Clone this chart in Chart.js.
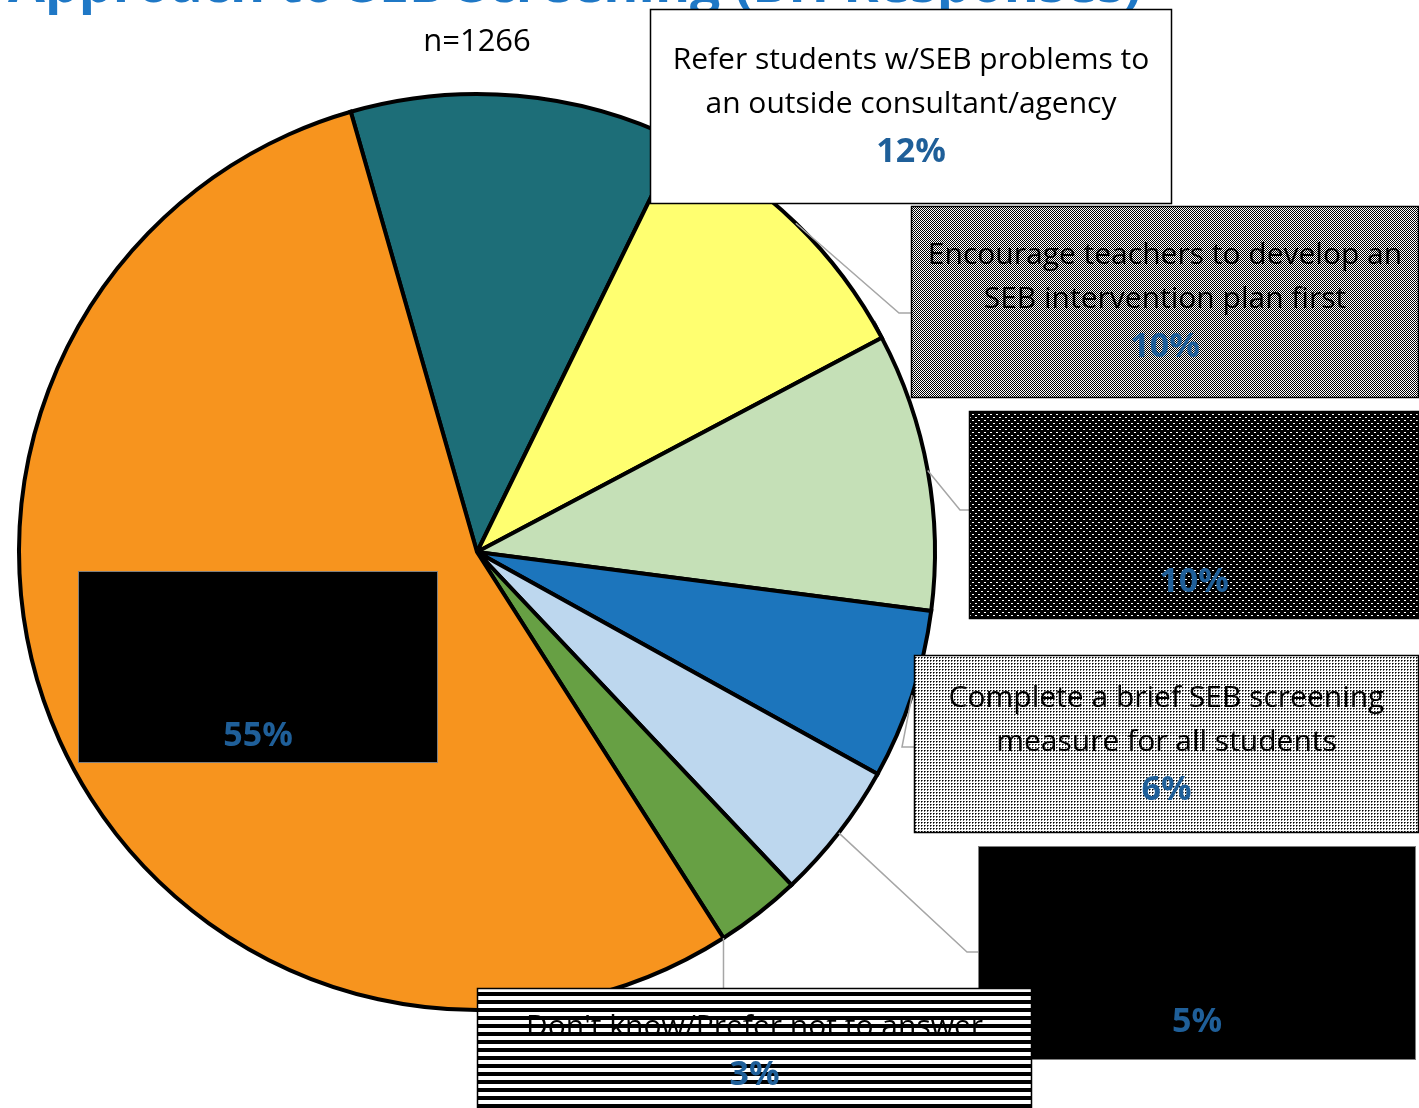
<!DOCTYPE html>
<html>
<head>
<meta charset="utf-8">
<script src="https://cdn.jsdelivr.net/npm/chart.js@4.4.1/dist/chart.umd.min.js"></script>
<style>
  html, body { margin: 0; padding: 0; background: #fff; }
  #wrap { width: 1419px; height: 1108px; position: relative; overflow: hidden; }
</style>
</head>
<body>
<div id="wrap"><canvas id="myChart" width="1419" height="1108"></canvas></div>
<script>
// data (slices go clockwise from the teal one)
const categories = [
    ['Refer students w/SEB problems to', 'an outside consultant/agency'],
    ['Encourage teachers to develop an', 'SEB intervention plan first'],
    [],
    ['Complete a brief SEB screening', 'measure for all students'],
    [],
    ["Don't know/Prefer not to answer"],
    []
];
const shares = [11.7, 10.0, 9.8, 6.0, 4.9, 3.0, 54.6];
const sliceColors = ['#1d6e78', '#ffff70', '#c5e0b7', '#1c75bc', '#bdd7ee', '#67a044', '#f7941e'];
const titleText = 'Approach to SEB Screening (BH Responses)';
const subTitle = 'n=1266';

// label boxes (position/look only)
const boxes = [
    { x: 650, y: 9, w: 522, h: 195, fill: 'white', pct: 143, lead: null },
    { x: 911, y: 206, w: 508, h: 192, fill: 'checker', pct: 141, lead: { f: 0.5, bend: [899, 313], end: [911, 313] } },
    { x: 969, y: 411, w: 450, h: 208, fill: 'darkdots', pct: 171, lead: { f: 0.5, bend: [960, 510], end: [969, 510] } },
    { x: 914, y: 655, w: 505, h: 178, fill: 'lightdots', pct: 135, lead: { f: 0.5, bend: [902, 747], end: [914, 747] } },
    { x: 978, y: 846, w: 438, h: 214, fill: 'black', pct: 176, lead: { f: 0.5, bend: [967, 952], end: [978, 952] } },
    { x: 477, y: 988, w: 555, h: 130, fill: 'stripes', pct: 87, lead: { f: 1.0, bend: null, end: 'down' } },
    { x: 78, y: 571, w: 360, h: 192, fill: 'black', pct: 165, lead: null }
];

function makePattern(ctx, kind) {
    const c = document.createElement('canvas');
    const g = c.getContext('2d');
    if (kind === 'checker') {
        c.width = 2; c.height = 2;
        g.fillStyle = '#fff'; g.fillRect(0, 0, 2, 2);
        g.fillStyle = '#000'; g.fillRect(0, 0, 1, 1); g.fillRect(1, 1, 1, 1);
    } else if (kind === 'darkdots') {
        c.width = 6; c.height = 6;
        g.fillStyle = '#000'; g.fillRect(0, 0, 6, 6);
        g.fillStyle = '#fff'; g.fillRect(0, 0, 2, 1); g.fillRect(3, 3, 2, 1);
    } else if (kind === 'lightdots') {
        c.width = 3; c.height = 3;
        g.fillStyle = '#fff'; g.fillRect(0, 0, 3, 3);
        g.fillStyle = '#000'; g.fillRect(0, 0, 1, 1);
        g.fillStyle = '#666'; g.fillRect(1, 0, 1, 1); g.fillRect(0, 1, 1, 1);
    } else if (kind === 'stripes') {
        c.width = 8; c.height = 8;
        g.fillStyle = '#fff'; g.fillRect(0, 0, 8, 8);
        g.fillStyle = '#000'; g.fillRect(0, 0, 8, 4);
    }
    return ctx.createPattern(c, 'repeat');
}

const labelBoxes = {
    id: 'labelBoxes',
    afterDatasetsDraw(chart) {
        const ctx = chart.ctx;
        const arcs = chart.getDatasetMeta(0).data;
        ctx.save();

        // title, cut off by the top edge
        ctx.fillStyle = '#1f78c6';
        ctx.font = 'bold 54px "Open Sans"';
        ctx.textAlign = 'left';
        ctx.textBaseline = 'alphabetic';
        ctx.fillText(titleText, 8, 2, 1134);

        ctx.fillStyle = '#000';
        ctx.font = '31px "Open Sans"';
        ctx.textAlign = 'center';
        ctx.textBaseline = 'middle';
        ctx.fillText(subTitle, 477, 42);

        // leader lines
        ctx.strokeStyle = '#a6a6a6';
        ctx.lineWidth = 1.5;
        boxes.forEach((b, i) => {
            if (!b.lead) return;
            const p = arcs[i].getProps(['x', 'y', 'startAngle', 'endAngle', 'outerRadius'], true);
            const a = p.startAngle + (p.endAngle - p.startAngle) * b.lead.f;
            const sx = p.x + p.outerRadius * Math.cos(a);
            const sy = p.y + p.outerRadius * Math.sin(a);
            ctx.beginPath();
            ctx.moveTo(sx, sy);
            if (b.lead.end === 'down') {
                ctx.lineTo(sx, b.y);
            } else {
                ctx.lineTo(b.lead.bend[0], b.lead.bend[1]);
                ctx.lineTo(b.lead.end[0], b.lead.end[1]);
            }
            ctx.stroke();
        });

        // boxes and texts
        boxes.forEach((b, i) => {
            if (b.fill === 'white') ctx.fillStyle = '#fff';
            else if (b.fill === 'black') ctx.fillStyle = '#000';
            else ctx.fillStyle = makePattern(ctx, b.fill);
            ctx.fillRect(b.x, b.y, b.w, b.h);
            ctx.strokeStyle = b.fill === 'black' ? '#7f7f7f' : '#000';
            ctx.lineWidth = b.fill === 'black' ? 1 : 1.5;
            ctx.strokeRect(b.x + 0.5, b.y + 0.5, b.w - 1, b.h - 1);

            const cx = b.x + b.w / 2;
            const pctY = b.y + b.pct;
            const lines = categories[i];
            ctx.fillStyle = '#000';
            ctx.font = '30px "Open Sans"';
            lines.forEach((ln, k) => {
                const y = pctY - 48 - 44 * (lines.length - 1 - k);
                ctx.fillText(ln, cx, y, b.w - 20);
            });
            ctx.fillStyle = '#1f5f99';
            ctx.font = 'bold 34px "Open Sans"';
            ctx.fillText(Math.round(shares[i]) + '%', cx, pctY);
        });
        ctx.restore();
    }
};

const ctx = document.getElementById('myChart').getContext('2d');
const myChart = new Chart(ctx, {
    type: 'pie',
    data: {
        labels: categories.map(c => c.join(' ')),
        datasets: [{
            data: shares,
            backgroundColor: sliceColors,
            borderColor: '#000',
            borderWidth: 4,
            borderJoinStyle: 'miter',
            hoverOffset: 0
        }]
    },
    options: {
        responsive: false,
        animation: false,
        devicePixelRatio: 1,
        rotation: -16,
        layout: {
            padding: { left: 17, right: 482, top: 92, bottom: 96 }
        },
        plugins: {
            legend: { display: false },
            tooltip: { enabled: false },
            title: { display: false }
        }
    },
    plugins: [labelBoxes]
});
</script>
</body>
</html>
